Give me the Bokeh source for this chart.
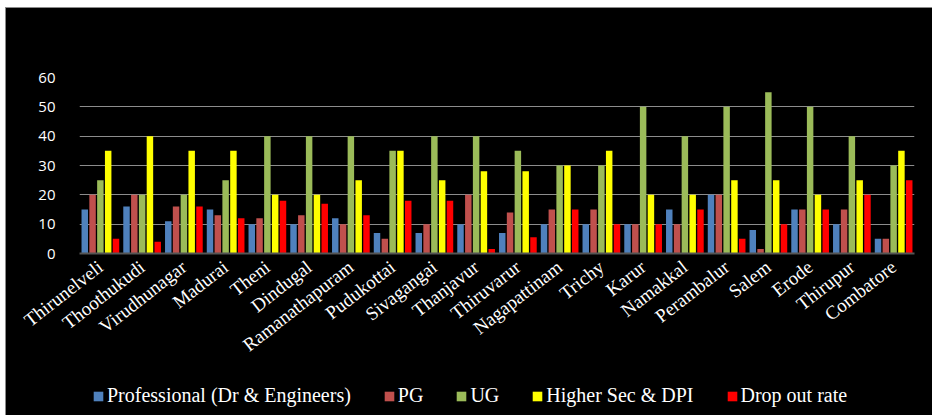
import math

from bokeh.embed import file_html
from bokeh.resources import INLINE
from bokeh.layouts import column
from bokeh.plotting import figure
from bokeh.models import (ColumnDataSource, FactorRange, Range1d, Legend, LegendItem,
                          SingleIntervalTicker)
from bokeh.transform import dodge

# District-wise share (%) by education level
districts = ["Thirunelveli", "Thoothukudi", "Virudhunagar", "Madurai", "Theni", "Dindugal",
             "Ramanathapuram", "Pudukottai", "Sivagangai", "Thanjavur", "Thiruvarur",
             "Nagapattinam", "Trichy", "Karur", "Namakkal", "Perambalur", "Salem", "Erode",
             "Thirupur", "Combatore"]
professional = [15, 16, 11, 15, 10, 10, 12, 7, 7, 10, 7, 10, 10, 10, 15, 20, 8, 15, 10, 5]
pg = [20, 20, 16, 13, 12, 13, 10, 5, 10, 20, 14, 15, 15, 10, 10, 20, 1.5, 15, 15, 5]
ug = [25, 20, 20, 25, 40, 40, 40, 35, 40, 40, 35, 30, 30, 50, 40, 50, 55, 50, 40, 30]
higher_sec = [35, 40, 35, 35, 20, 20, 25, 35, 25, 28, 28, 30, 35, 20, 20, 25, 25, 20, 25, 35]
drop_out = [5, 4, 16, 12, 18, 17, 13, 18, 18, 1.5, 5.5, 15, 10, 10, 15, 5, 10, 15, 20, 25]

series_names = ["Professional (Dr & Engineers)", "PG", "UG", "Higher Sec & DPI", "Drop out rate"]
series_keys = ["professional", "pg", "ug", "higher_sec", "drop_out"]
series_colors = ["#4F81BD", "#C0504D", "#9BBB59", "#FFFF00", "#FF0000"]

source = ColumnDataSource(data=dict(
    district=districts, professional=professional, pg=pg, ug=ug,
    higher_sec=higher_sec, drop_out=drop_out,
))

x_range = FactorRange(*districts, range_padding=0)
slot = 0.187
bar_width = 0.155

# Main bar chart
p = figure(
    width=926, height=367,
    x_range=x_range, y_range=Range1d(0, 60),
    output_backend="svg", toolbar_location=None,
    background_fill_color="black", border_fill_color="black",
    min_border_left=73, min_border_right=18, min_border_top=69, min_border_bottom=122,
)
p.outline_line_color = None

for i, (key, color) in enumerate(zip(series_keys, series_colors)):
    p.vbar(x=dodge("district", (i - 2) * slot, range=x_range), top=key,
           width=bar_width, source=source, fill_color=color, line_color=None)

p.xgrid.grid_line_color = None
p.ygrid.grid_line_color = "#8c8c8c"
p.ygrid.grid_line_width = 1
p.yaxis.ticker = SingleIntervalTicker(interval=10)

p.yaxis.axis_line_color = None
p.yaxis.major_tick_line_color = None
p.yaxis.minor_tick_line_color = None
p.yaxis.major_label_standoff = 18
p.yaxis.major_label_text_color = "white"
p.yaxis.major_label_text_font = "Open Sans"
p.yaxis.major_label_text_font_size = "15px"

p.xaxis.axis_line_color = "#555555"
p.xaxis.axis_line_width = 2
p.xaxis.major_tick_line_color = None
p.xaxis.minor_tick_line_color = None
p.xaxis.major_label_orientation = math.radians(38)
p.xaxis.major_label_standoff = 5
p.xaxis.major_label_text_color = "white"
p.xaxis.major_label_text_font = "Liberation Serif"
p.xaxis.major_label_text_font_size = "19px"

# Legend strip underneath the chart; its frame lines up with the chart frame and
# the series are plotted below the visible window so only the legend shows.
lg = figure(
    width=926, height=40, x_range=x_range, y_range=Range1d(100, 101),
    x_axis_type=None, y_axis_type=None,
    output_backend="svg", toolbar_location=None,
    background_fill_color="black", border_fill_color="black",
    min_border_left=73, min_border_right=18, min_border_top=0, min_border_bottom=0,
)
lg.outline_line_color = None

items = []
for i, (key, name, color) in enumerate(zip(series_keys, series_names, series_colors)):
    r = lg.vbar(x=dodge("district", (i - 2) * slot, range=x_range), top=key,
                width=bar_width, source=source, fill_color=color, line_color=None)
    items.append(LegendItem(label=name, renderers=[r]))

legend = Legend(items=items, orientation="horizontal", location=(13, 8),
                glyph_width=12, glyph_height=12, label_standoff=3, spacing=32,
                padding=0, margin=0, border_line_color=None,
                background_fill_alpha=0,
                label_text_color="white", label_text_font="Liberation Serif",
                label_text_font_size="20px")
lg.add_layout(legend, "center")

# Black panel holding chart and legend, inside a thin gray frame line
inner = column(p, lg, styles={"background-color": "black"})
inner.spacing = 0
inner.margin = (1, 0, 0, 1)

page = column(inner, styles={"background-color": "#8a8a8a"})
page.margin = (7, 0, 0, 5)

open("out.html", "w").write(file_html(page, INLINE))
